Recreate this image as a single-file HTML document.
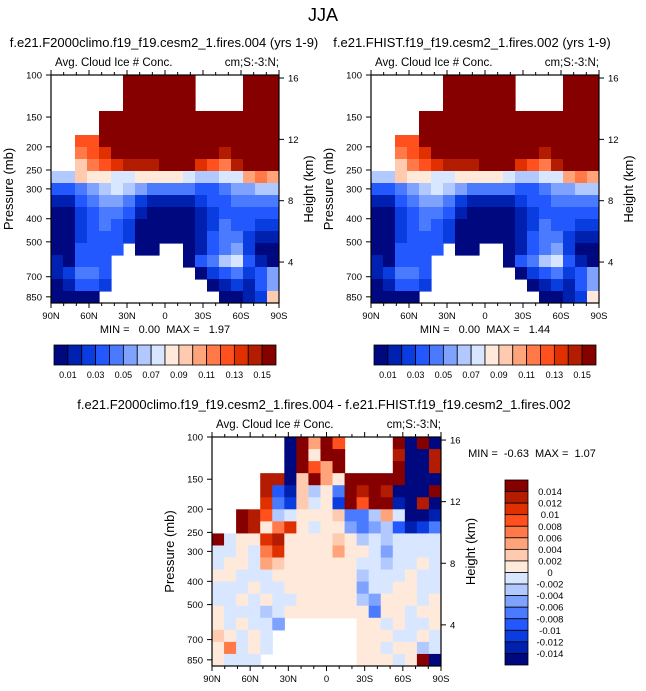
<!DOCTYPE html>
<html><head><meta charset="utf-8"><style>
html,body{margin:0;padding:0;background:#fff;}
svg{display:block;font-family:"Liberation Sans",Arial,sans-serif;}
text{white-space:pre;}
</style></head><body>
<svg id="fig" width="646" height="691" viewBox="0 0 646 691" xmlns="http://www.w3.org/2000/svg">
<rect width="646" height="691" fill="#fff"/>
<text x="323" y="21" font-size="18" text-anchor="middle">JJA</text>
</svg>
<script>
// ---- data ----
const palette = ["#00087f","#0020b0","#0a3de0","#2458ff","#4a7bff","#80a2ff","#b2c9ff","#d8e7ff","#ffe9da","#ffcbb0","#ffa37b","#ff7a48","#ff501e","#e03000","#b31c00","#870000"];
const latLabels = ["90N","60N","30N","0","30S","60S","90S"];
const presTicks = [100,150,200,250,300,400,500,700,850];
const heightTicks = [16,12,8,4];
const cbLabelsTop = ["0.01","0.03","0.05","0.07","0.09","0.11","0.13","0.15"];
const cbLabelsDiff = ["0.014","0.012","0.01","0.008","0.006","0.004","0.002","0","-0.002","-0.004","-0.006","-0.008","-0.01","-0.012","-0.014"];
const minMax1 = ["0.00","1.97"];
const minMax2 = ["0.00","1.44"];
const minMax3 = ["-0.63","1.07"];
const p1Rows = [
"      ffffff    fff",
"      ffffff    fff",
"      ffffff    fff",
"    fffffffffffffff",
"    fffffffffffffff",
"  ccfffffffffffffff",
"  bcdfffffffffeffff",
"  9bcdeeefffdcbefff",
"6698877888876677aba",
"3345676544443345566",
"1134554211112334444",
"0023443100001233333",
"0023432000001243322",
"0023332000001344211",
"003333 00  01345200",
"10333      03467310",
"12443       0234235",
"01332        012135",
"0000          00129"];
const p2Rows = [
"      ffffff    fff",
"      ffffff    fff",
"      ffffff    fff",
"    fffffffffffffff",
"    fffffffffffffff",
"  ccfffffffffffffff",
"  bcdfffffffffeffff",
"  9bcdeeefffdcbefff",
"6698877888876677aba",
"3345676544443345566",
"1134554211112334444",
"0023443100001233333",
"0023432000001243322",
"0023332000001344211",
"003333 00  01345200",
"10333      03467310",
"12443       0234235",
"01332        012135",
"0000          00128"];
const p3Rows = [
"      0fafc    f0f0",
"      0f8ff    e00e",
"      0fcaf    f00e",
"    ee09fa8fffff000",
"    e319684fefe000f",
"    d429782fcff10e0",
"  fec678889446a7001",
"  fe8bd878854563124",
"f788de8888986767777",
"7787bd8888a88757777",
"7887a98888887767787",
"8877788888886777877",
"7778778888885778877",
"7787877888886588878",
"8777678888888488788",
"878775      8878778",
"98787       8887787",
"8b787       8878867",
"8777        88878f0"];

// ---- helpers ----
const svg = document.getElementById('fig');
const NS = "http://www.w3.org/2000/svg";
function mk(tag, attrs, parent){
  const e = document.createElementNS(NS, tag);
  for (const k in attrs) e.setAttribute(k, attrs[k]);
  (parent||svg).appendChild(e);
  return e;
}
function txt(s, x, y, size, anchor, parent, rot){
  const t = mk('text', {x:x, y:y, 'font-size':size, 'text-anchor':anchor||'start'}, parent);
  if (rot) t.setAttribute('transform', 'rotate(' + rot + ' ' + x + ' ' + y + ')');
  t.textContent = s;
  return t;
}
const PBOT = 902;
function yP(p, top, H){ return top + Math.log(p/100)/Math.log(PBOT/100)*H; }
function pOfZ(z){ return 1098*Math.exp(-z/6.76); }
function xLat(i, left, W){ return left + i*W/(latLabels.length-1); }

function drawPanel(rows, left, top, W, H, name){
  const g = mk('g', {});
  
  
  const nr = rows.length, nc = rows[0].length;
  const cw = W/nc, ch = H/nr;
  for (let r=0;r<nr;r++){
    for (let c=0;c<nc;c++){
      const ch_ = rows[r][c];
      if (!ch_ || ch_===' ') continue;
      const lv = parseInt(ch_,16);
      const cell = mk('rect', {x:left+c*cw, y:top+r*ch, width:cw+0.6, height:ch+0.6, fill:palette[lv]}, g);
      
      
    }
  }
  mk('rect', {x:left+W, y:top-2, width:2, height:H+4, fill:'#fff'}, g);
  mk('rect', {x:left-2, y:top+H, width:W+4, height:2, fill:'#fff'}, g);
  const fr = mk('rect', {x:left, y:top, width:W, height:H, fill:'none', stroke:'#000', 'stroke-width':1.2}, g);
  
  
  for (let d=0; d<=180; d+=10){
    const x = left + d/180*W;
    const len = (d%30===0)?5:3;
    mk('line', {x1:x, y1:top+H, x2:x, y2:top+H+len, stroke:'#000','stroke-width':1}, g);
    mk('line', {x1:x, y1:top, x2:x, y2:top-len, stroke:'#000','stroke-width':1}, g);
  }
  latLabels.forEach((s,i)=>{
    const t = txt(s, xLat(i,left,W), top+H+16, 9.5, 'middle', g);
    
    
  });
  presTicks.forEach(p=>{
    const y = yP(p, top, H);
    mk('line', {x1:left-5, y1:y, x2:left, y2:y, stroke:'#000','stroke-width':1}, g);
    const t = txt(String(p), left-9, y+3.5, 9.5, 'end', g);
    
    
  });
  heightTicks.forEach(z=>{
    const y = yP(pOfZ(z), top, H);
    mk('line', {x1:left+W, y1:y, x2:left+W+5, y2:y, stroke:'#000','stroke-width':1}, g);
    const t = txt(String(z), left+W+9, y+3.5, 9.5, 'start', g);
    
    
  });
  const pt = txt('Pressure (mb)', left-38, top+H/2, 13, 'middle', g, -90);
  
  
  const ht = txt('Height (km)', left+W+34, top+H/2, 13, 'middle', g, -90);
  
  
  const a = txt('Avg. Cloud Ice # Conc.', left+4, top-9, 11.5, 'start', g);
  
  
  const b = txt('cm;S:-3:N;', left+W, top-9, 11.5, 'end', g);
  
  
}

function hColorbar(left, top, W, H, name){
  const g = mk('g', {});
  
  
  const bw = W/palette.length;
  palette.forEach((c,i)=>{
    const r = mk('rect', {x:left+i*bw, y:top, width:bw, height:H, fill:c, stroke:'#000','stroke-width':0.8}, g);
    
    
  });
  cbLabelsTop.forEach((s,k)=>{
    const t = txt(s, left+(2*k+1)*bw, top+H+13, 9, 'middle', g);
    
    
  });
}
function vColorbar(left, top, W, H, name){
  const g = mk('g', {});
  
  
  const bh = H/palette.length;
  for (let i=0;i<palette.length;i++){
    const r = mk('rect', {x:left, y:top+i*bh, width:W, height:bh, fill:palette[palette.length-1-i], stroke:'#000','stroke-width':0.8}, g);
    
    
  }
  cbLabelsDiff.forEach((s,k)=>{
    const t = txt(s, left+W+22, top+(k+1)*bh+3.5, 9.5, 'middle', g);
    
    
  });
}

// ---- panels ----
let t;
t = txt('f.e21.F2000climo.f19_f19.cesm2_1.fires.004 (yrs 1-9)', 164, 47, 13, 'middle');


drawPanel(p1Rows, 51, 75, 228, 228, 'panel1');
t = txt('MIN =   ' + minMax1[0] + '  MAX =   ' + minMax1[1], 165, 333, 11, 'middle');


hColorbar(54, 345, 222, 20, 'panel1-colorbar');

t = txt('f.e21.FHIST.f19_f19.cesm2_1.fires.002 (yrs 1-9)', 472, 47, 13, 'middle');


drawPanel(p2Rows, 371, 75, 228, 228, 'panel2');
t = txt('MIN =   ' + minMax2[0] + '  MAX =   ' + minMax2[1], 485, 333, 11, 'middle');


hColorbar(374, 345, 222, 20, 'panel2-colorbar');

t = txt('f.e21.F2000climo.f19_f19.cesm2_1.fires.004 - f.e21.FHIST.f19_f19.cesm2_1.fires.002', 324, 409, 13, 'middle');


drawPanel(p3Rows, 212, 437, 229, 229, 'panel3');
t = txt('MIN =  ' + minMax3[0] + '  MAX =  ' + minMax3[1], 532, 457, 11, 'middle');


vColorbar(505, 480, 23, 185, 'panel3-colorbar');
</script>
</body></html>
